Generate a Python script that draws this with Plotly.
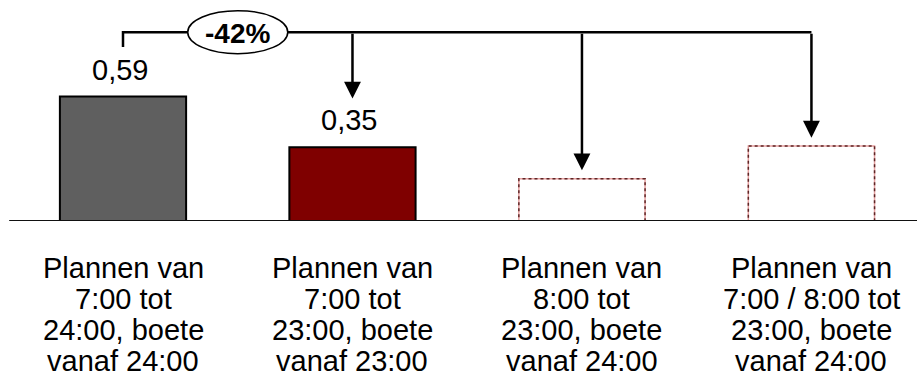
import plotly.graph_objects as go

# Scenario categories (one list of text lines per bar)
categories = [
    ["Plannen van", "7:00 tot", "24:00, boete", "vanaf 24:00"],
    ["Plannen van", "7:00 tot", "23:00, boete", "vanaf 23:00"],
    ["Plannen van", "8:00 tot", "23:00, boete", "vanaf 24:00"],
    ["Plannen van", "7:00 / 8:00 tot", "23:00, boete", "vanaf 24:00"],
]
values = [0.59, 0.35, 0.20, 0.355]
value_labels = ["0,59", "0,35", "", ""]
fill_colors = ["#5f5f5f", "#7f0000", "#ffffff", "#ffffff"]
dashed = [False, False, True, True]
change_label = "-42%"

FONT = "Liberation Sans, Arial, sans-serif"
FS = 29
BAR_W = 0.55
LEVEL = 0.895          # height of the comparison bracket
LEFT_DROP = 0.07       # short leg above the reference bar
ARROW_GAP = 0.04       # space between arrow tip and bar top
LABEL_ROOM = 0.19      # extra space when the bar carries a value label

xs = list(range(len(values)))

fig = go.Figure()

fig.add_trace(go.Bar(
    x=xs, y=values, width=BAR_W,
    marker=dict(
        color=fill_colors,
        line=dict(color=["#000000" if not d else "rgba(0,0,0,0)" for d in dashed],
                  width=2),
    ),
    hoverinfo="skip",
))

# bracket: short leg over the first bar, then across to the last bar
fig.add_trace(go.Scatter(
    x=[xs[0], xs[0], xs[-1]],
    y=[LEVEL - LEFT_DROP, LEVEL, LEVEL],
    mode="lines", line=dict(color="#000000", width=2.5),
    hoverinfo="skip",
))

shapes = []
# dashed outlines for the planned scenarios
for x, v, d in zip(xs, values, dashed):
    if d:
        shapes.append(dict(type="rect", xref="x", yref="y",
                           x0=x - BAR_W / 2, x1=x + BAR_W / 2, y0=0, y1=v,
                           line=dict(color="#e6a0a0", width=1.5), layer="above"))
        shapes.append(dict(type="rect", xref="x", yref="y",
                           x0=x - BAR_W / 2, x1=x + BAR_W / 2, y0=0, y1=v,
                           line=dict(color="#5e2626", width=1.5, dash="3px,3px"),
                           layer="above"))

# baseline
shapes.append(dict(type="line", xref="paper", yref="y", x0=0.01, x1=1, y0=0, y1=0,
                   line=dict(color="#111111", width=2), layer="above"))

# ellipse holding the change label, between the first two bars
shapes.append(dict(type="circle", xref="x", yref="y",
                   xsizemode="pixel", ysizemode="pixel",
                   xanchor=(xs[0] + xs[1]) / 2, yanchor=LEVEL,
                   x0=-50, x1=50, y0=-21.5, y1=21.5,
                   fillcolor="#ffffff", line=dict(color="#000000", width=1.5),
                   layer="above"))

annotations = []
# arrows from the bracket down to each compared bar
for x, v, lab in zip(xs[1:], values[1:], value_labels[1:]):
    tip = v + ARROW_GAP + (LABEL_ROOM if lab else 0)
    annotations.append(dict(
        x=x, y=tip, ax=x, ay=LEVEL, xref="x", yref="y", axref="x", ayref="y",
        text="", showarrow=True, arrowhead=2, arrowsize=1.35, arrowwidth=2.5,
        arrowcolor="#000000", standoff=0,
    ))

# value labels above the bars
for x, v, lab in zip(xs, values, value_labels):
    if lab:
        annotations.append(dict(
            x=x, y=v, xref="x", yref="y", text=lab, showarrow=False,
            yanchor="bottom", yshift=9, xshift=-3,
            font=dict(family=FONT, size=FS, color="#000000"),
        ))

annotations.append(dict(
    x=(xs[0] + xs[1]) / 2, y=LEVEL, xref="x", yref="y", text="<b>" + change_label + "</b>",
    showarrow=False, yanchor="middle", xanchor="center", yshift=-1,
    font=dict(family=FONT, size=28, color="#000000"),
))

# category labels under the baseline, one annotation per line
LINE_STEP = 31.0
for x, lines in zip(xs, categories):
    for k, line in enumerate(lines):
        annotations.append(dict(
            x=x, y=0, xref="x", yref="paper", text=line, showarrow=False,
            xanchor="center", yanchor="middle", yshift=-47 - LINE_STEP * k,
            font=dict(family=FONT, size=FS, color="#000000"),
        ))

fig.update_layout(
    width=917, height=380, autosize=False,
    margin=dict(l=0, r=0, t=0, b=159, pad=0),
    paper_bgcolor="#ffffff", plot_bgcolor="#ffffff",
    showlegend=False,
    xaxis=dict(range=[-0.536, 3.460], visible=False, fixedrange=True),
    yaxis=dict(range=[0, 221 / 211], visible=False, fixedrange=True),
    shapes=shapes, annotations=annotations,
    font=dict(family=FONT),
)

fig.write_html("out.html")
